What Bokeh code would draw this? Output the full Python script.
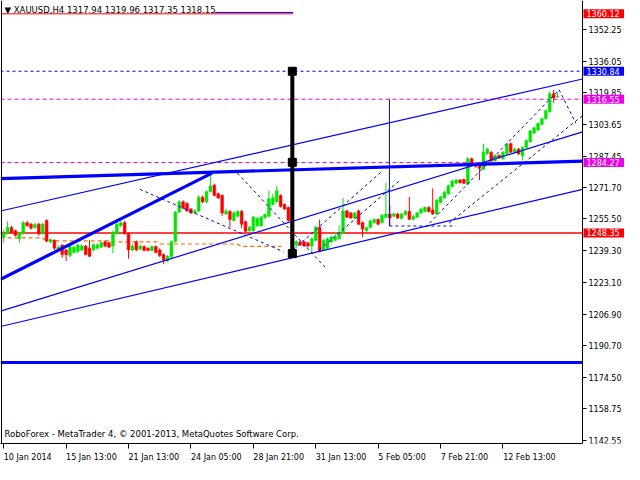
from bokeh.plotting import figure
from bokeh.models import Range1d, FixedTicker, Label, ColumnDataSource, NumeralTickFormatter, LinearAxis
from bokeh.embed import file_html
from bokeh.resources import INLINE

# ---------------- data ----------------
opens = [1246.3,1248.2,1251.1,1249.5,1245.5,1248.2,1253.6,1252.8,1251.1,1252.8,1248.2,1254.7,1243.8,1244.6,1239.7,1242.2,1239.7,1236.8,1238.4,1238.9,
         1239.7,1241.7,1240.6,1239.7,1240.6,1241.1,1243.8,1243.3,1241.7,1247.9,1252.0,1253.6,1247.9,1239.7,1243.8,1240.1,1241.4,1240.6,1239.4,1241.4,
         1239.7,1237.3,1234.0,1236.2,1243.8,1259.0,1264.2,1263.4,1260.6,1258.5,1259.6,1266.6,1264.2,1269.4,1272.7,1268.3,1267.5,1258.0,1259.3,1254.7,
         1256.9,1259.3,1254.1,1249.5,1249.5,1252.0,1252.0,1256.1,1256.9,1262.9,1264.2,1267.5,1262.9,1261.3,1255.2,1242.2,1243.8,1243.8,1243.3,1241.7,
         1244.6,1251.2,1239.7,1240.6,1243.8,1244.6,1245.4,1248.2,1259.6,1258.5,1256.0,1259.6,1253.6,1249.5,1251.2,1253.6,1255.2,1253.6,1256.4,1258.0,
         1256.9,1258.0,1255.7,1257.7,1259.3,1255.3,1256.4,1258.5,1259.3,1261.3,1260.1,1258.0,1263.9,1266.2,1268.3,1272.0,1273.7,1275.3,1275.6,1273.2,
         1286.2,1283.8,1283.0,1280.8,1288.7,1289.5,1285.1,1287.9,1286.2,1288.7,1293.9,1289.5,1291.1,1287.9,1291.9,1294.9,1299.3,1300.9,1303.7,1306.6,
         1310.2,1319.3,1317.94]
highs = [1250.0,1254.4,1252.0,1250.0,1249.0,1254.4,1254.4,1253.5,1253.5,1253.6,1253.6,1255.3,1245.5,1245.0,1242.0,1242.5,1240.0,1242.0,1242.0,1243.0,
         1242.5,1242.2,1244.6,1243.0,1243.0,1244.0,1244.5,1244.0,1249.5,1255.2,1254.5,1254.4,1248.5,1242.5,1244.5,1242.5,1242.0,1241.0,1242.0,1242.0,
         1240.5,1238.0,1237.0,1244.5,1259.5,1265.0,1265.0,1264.0,1261.0,1260.5,1267.5,1267.5,1270.0,1278.9,1273.5,1269.0,1268.0,1260.5,1260.0,1259.5,
         1260.0,1260.0,1254.6,1252.0,1257.0,1256.5,1257.0,1258.3,1269.9,1268.3,1272.3,1268.0,1263.4,1261.8,1256.0,1244.6,1244.4,1244.4,1243.8,1246.0,
         1252.0,1255.2,1245.2,1246.0,1247.0,1249.0,1252.0,1266.2,1260.2,1259.0,1259.0,1260.2,1254.1,1251.6,1255.0,1255.8,1255.8,1258.0,1274.0,1262.6,
         1258.6,1258.6,1258.6,1260.0,1266.7,1257.5,1259.2,1261.2,1262.0,1262.0,1271.1,1265.6,1267.3,1269.8,1273.0,1275.5,1276.0,1275.9,1276.2,1287.0,
         1286.8,1284.4,1283.6,1293.9,1291.8,1290.1,1288.5,1288.5,1290.1,1294.2,1294.5,1291.7,1291.7,1292.5,1296.0,1301.0,1302.6,1304.8,1307.2,1311.3,
         1320.5,1321.3,1319.96]
lows = [1243.3,1247.9,1248.0,1246.5,1243.3,1247.5,1251.5,1250.0,1250.5,1247.0,1247.5,1243.5,1243.0,1239.7,1239.0,1235.7,1234.0,1236.0,1238.0,1238.0,
        1239.0,1237.0,1236.0,1239.0,1240.0,1240.5,1241.0,1240.5,1238.1,1247.5,1251.5,1247.5,1235.2,1239.0,1239.0,1239.5,1239.0,1239.0,1239.0,1238.0,
        1236.0,1232.4,1233.5,1235.5,1243.5,1258.5,1260.5,1259.0,1258.0,1258.0,1259.0,1263.5,1263.5,1269.0,1267.0,1265.7,1256.9,1257.5,1251.2,1254.2,
        1256.4,1250.8,1248.7,1249.0,1249.0,1251.5,1251.5,1255.6,1256.4,1262.4,1263.7,1261.3,1260.1,1254.2,1236.5,1240.6,1241.7,1241.2,1240.9,1237.8,
        1244.0,1238.4,1239.2,1240.1,1243.3,1244.1,1245.0,1247.7,1255.9,1255.5,1255.5,1252.3,1246.3,1249.0,1250.7,1253.1,1252.3,1253.1,1255.9,1252.0,
        1256.4,1255.5,1255.2,1257.2,1254.8,1254.8,1256.0,1258.0,1258.8,1258.8,1257.5,1257.5,1263.4,1265.7,1267.8,1271.5,1273.2,1273.5,1273.2,1272.7,
        1282.5,1281.7,1275.3,1280.3,1288.2,1284.6,1284.6,1286.2,1285.7,1288.2,1289.0,1289.0,1288.2,1285.4,1291.4,1294.4,1298.8,1300.4,1303.2,1306.1,
        1309.7,1314.8,1317.35]
closes = [1248.2,1251.1,1248.7,1247.1,1248.2,1253.6,1252.0,1250.8,1252.8,1247.9,1252.8,1244.3,1245.0,1240.6,1241.1,1237.3,1237.3,1241.4,1241.1,1242.2,
          1241.7,1237.3,1236.5,1242.2,1242.2,1243.3,1241.7,1241.1,1248.7,1252.8,1253.6,1247.9,1239.7,1241.7,1239.7,1241.7,1239.4,1239.4,1241.4,1238.4,
          1236.8,1234.5,1236.5,1243.8,1259.0,1264.2,1260.9,1259.6,1258.5,1259.6,1266.6,1264.2,1269.4,1272.3,1267.5,1266.2,1258.5,1259.6,1255.2,1258.5,
          1259.3,1252.8,1249.2,1251.2,1256.4,1255.7,1256.4,1257.7,1265.8,1266.2,1269.9,1261.8,1260.6,1254.7,1238.1,1243.8,1242.2,1241.7,1241.7,1245.4,
          1251.2,1238.9,1244.6,1245.4,1246.3,1246.3,1248.2,1259.6,1256.4,1256.0,1258.5,1252.8,1250.3,1251.0,1254.4,1255.2,1252.8,1257.4,1258.0,1256.0,
          1258.0,1256.0,1258.0,1259.3,1255.3,1256.9,1258.5,1260.5,1261.3,1259.3,1258.0,1265.0,1266.7,1269.1,1272.4,1274.8,1275.3,1274.0,1273.7,1286.2,
          1283.0,1282.2,1281.3,1289.5,1291.1,1285.1,1287.9,1286.7,1289.5,1293.6,1289.5,1291.1,1288.7,1291.9,1295.5,1300.4,1302.0,1304.2,1306.6,1310.7,
          1319.3,1317.2,1318.15]

date_ticks = [0, 16, 32, 48, 64, 80, 96, 112, 128]
date_labels = ["10 Jan 2014", "15 Jan 13:00", "21 Jan 13:00", "24 Jan 05:00", "28 Jan 21:00",
               "31 Jan 13:00", "5 Feb 05:00", "7 Feb 21:00", "12 Feb 13:00"]
price_ticks = [1352.25, 1336.05, 1319.85, 1303.65, 1287.45, 1271.70, 1255.50, 1239.30,
               1223.10, 1206.90, 1190.70, 1174.50, 1158.75, 1142.55]

# price levels (horizontal lines) and their tags
level_top_red = 1360.12
level_blue = 1330.84
level_mag1 = 1316.55
level_mag2 = 1284.27
level_red = 1248.35
level_low_blue = 1182.25

# trend lines: (x0 bar, y0 price, x1 bar, y1 price)
thin_lines = [(-0.8, 1259.55, 148.4, 1326.86),
              (-0.8, 1208.43, 148.4, 1299.90),
              (-0.8, 1200.61, 148.4, 1270.56)]
thick_lines = [(-0.8, 1276.08, 148.4, 1284.98),
               (-0.8, 1224.72, 53.4, 1278.87)]
dashed_lines = [(34.9, 1270.6, 71.7, 1238.8),
                (59.9, 1278.9, 82.4, 1230.9),
                (74.2, 1239.7, 96.7, 1279.3),
                (80.9, 1239.7, 101.7, 1275.4),
                (109.2, 1253.4, 142.4, 1321.4),
                (114.2, 1253.4, 148.4, 1308.2),
                (142.4, 1321.4, 146.7, 1304.3)]
orange_x = [-0.8, 9.9, 10.9, 26.7, 27.7, 39.2, 40.2, 59.9, 60.9, 71.2]
orange_y = [1245.8, 1245.8, 1244.3, 1244.3, 1243.8, 1243.8, 1242.7, 1242.7, 1241.5, 1241.5]

FONT = "DejaVu Sans"
FS = "8px"
FS2 = "8.5px"

n = len(closes)
idx = list(range(n))
inc = [c >= o for o, c in zip(opens, closes)]

def sub(mask):
    return ColumnDataSource(dict(
        x=[i for i, m in zip(idx, mask) if m],
        top=[max(o, c) for o, c, m in zip(opens, closes, mask) if m],
        bottom=[min(o, c) for o, c, m in zip(opens, closes, mask) if m],
        high=[h for h, m in zip(highs, mask) if m],
        low=[l for l, m in zip(lows, mask) if m],
    ))

src_up = sub(inc)
src_dn = sub([not v for v in inc])

# visible chart area (bar index / price); x range continues under the price scale
x0, x1 = -0.825, 148.4
y0, y1 = 1140.94, 1366.92
X_END = 159.175
W, H = 624, 464
PX_PER_BAR = W / (X_END - x0)

p = figure(width=W, height=H, output_backend="svg", toolbar_location=None,
           x_range=Range1d(x0, X_END), y_range=Range1d(y0, y1),
           x_axis_location=None, y_axis_location=None,
           min_border_left=0, min_border_top=0, min_border_right=0, min_border_bottom=0)
p.grid.visible = False
p.outline_line_color = None

# right price axis drawn at the right edge of the chart area
ya = LinearAxis(fixed_location=x1, bounds=(y0, y1), ticker=FixedTicker(ticks=price_ticks),
                formatter=NumeralTickFormatter(format="0.00"))
ya.major_label_text_font = FONT
ya.major_label_text_font_size = FS
ya.major_label_text_color = "black"
ya.major_tick_out = 4
ya.major_tick_in = 0
ya.minor_tick_out = 0
ya.minor_tick_in = 0
ya.major_label_standoff = 2
ya.axis_line_color = "black"
p.add_layout(ya, "right")

# bottom time axis: tick marks (minor ticks) at the dates, label texts start at the tick
# (MetaTrader style, left aligned) -> label anchors shifted by half their text width
char_w = {"d": 0.636, " ": 0.318, "J": 0.295, "a": 0.613, "n": 0.634, "F": 0.575,
          "e": 0.615, "b": 0.635, ":": 0.337}
def text_w(s, size=8.0):
    return sum(char_w["d"] if ch.isdigit() else char_w.get(ch, 0.6) for ch in s) * size

label_pos = [t + text_w(s) / 2.0 / PX_PER_BAR for t, s in zip(date_ticks, date_labels)]
xa = LinearAxis(bounds=(x0, x1), ticker=FixedTicker(ticks=label_pos, minor_ticks=date_ticks))
xa.major_label_overrides = {lp: s for lp, s in zip(label_pos, date_labels)}
xa.major_label_text_font = FONT
xa.major_label_text_font_size = FS
xa.major_label_text_color = "black"
xa.major_label_standoff = 4
xa.major_tick_out = 0
xa.major_tick_in = 0
xa.minor_tick_out = 5
xa.minor_tick_in = 0
xa.minor_tick_line_color = "black"
xa.axis_line_color = "black"
p.add_layout(xa, "below")

# left border
la = LinearAxis(fixed_location=x0 + 0.3, bounds=(y0, y1), ticker=FixedTicker(ticks=[]))
la.major_tick_out = 0
la.minor_tick_out = 0
la.axis_line_color = "black"
p.add_layout(la, "left")

GREEN = "#00e600"
RED = "#ff0000"
BLUE = "#0000ff"
MAG = "#ee00ee"

# horizontal levels
p.segment(x0=[x0], y0=[level_top_red], x1=[74.2], y1=[level_top_red], line_color=RED, line_width=1)
p.segment(x0=[54.2], y0=[level_top_red + 0.7], x1=[74.2], y1=[level_top_red + 0.7], line_color=BLUE, line_width=1)
p.segment(x0=[x0], y0=[level_blue], x1=[x1], y1=[level_blue], line_color=BLUE, line_width=1, line_dash="3 3")
p.segment(x0=[x0, x0], y0=[level_mag1, level_mag2], x1=[x1, x1], y1=[level_mag1, level_mag2],
          line_color=MAG, line_width=1, line_dash="4 3")
p.segment(x0=[x0], y0=[level_red], x1=[x1], y1=[level_red], line_color=RED, line_width=1.5)
p.segment(x0=[x0], y0=[level_low_blue], x1=[x1], y1=[level_low_blue], line_color=BLUE, line_width=3)

p.line(orange_x, orange_y, line_color="#ff6a00", line_width=1.2, line_dash="4 3")

# candles
for src, col in ((src_up, GREEN), (src_dn, RED)):
    p.segment(x0="x", y0="low", x1="x", y1="high", source=src, line_color=col, line_width=1)
    p.vbar(x="x", top="top", bottom="bottom", width=0.72, source=src, fill_color=col, line_color=col, line_width=0.5)

# trend lines
for (a, b, c, d) in thin_lines:
    p.segment(x0=[a], y0=[b], x1=[c], y1=[d], line_color=BLUE, line_width=1.2)
for (a, b, c, d) in thick_lines:
    p.segment(x0=[a], y0=[b], x1=[c], y1=[d], line_color=BLUE, line_width=3.2)
for (a, b, c, d) in dashed_lines:
    p.segment(x0=[a], y0=[b], x1=[c], y1=[d], line_color=BLUE, line_width=1, line_dash="3 3")

# blue vertical + dashed base
p.segment(x0=[98.9], y0=[1316.5], x1=[98.9], y1=[1251.9], line_color=BLUE, line_width=1)
p.segment(x0=[98.9], y0=[1251.9], x1=[115.9], y1=[1251.9], line_color=BLUE, line_width=1, line_dash="3 3")

# black vertical marker
p.segment(x0=[74.0], y0=[level_blue], x1=[74.0], y1=[1237.8], line_color="black", line_width=4)
p.scatter(x=[74.0, 74.0, 74.0], y=[level_blue, 1284.4, 1237.8], marker="square", size=8,
          fill_color="black", line_color="black")

# right price tags
for val, col in ((level_top_red, RED), (level_blue, BLUE), (level_mag1, MAG), (level_mag2, MAG), (level_red, RED)):
    p.add_layout(Label(x=x1, y=val, x_offset=1, text="%.2f" % val, text_color="white",
                       text_font=FONT, text_font_size=FS, text_baseline="middle",
                       background_fill_color=col, padding=dict(left=3, right=8, top=1, bottom=1)))

# header and footer text
p.add_layout(Label(x=x0, y=1362.0, x_offset=4, text="\u25bc XAUUSD,H4  1317.94 1319.96 1317.35 1318.15",
                   text_font=FONT, text_font_size=FS2, text_baseline="middle", text_color="black"))
p.add_layout(Label(x=x0, y=1145.8, x_offset=4, text="RoboForex - MetaTrader 4, \u00a9 2001-2013, MetaQuotes Software Corp.",
                   text_font=FONT, text_font_size=FS2, text_baseline="middle", text_color="black"))

open("out.html", "w").write(file_html(p, INLINE))
